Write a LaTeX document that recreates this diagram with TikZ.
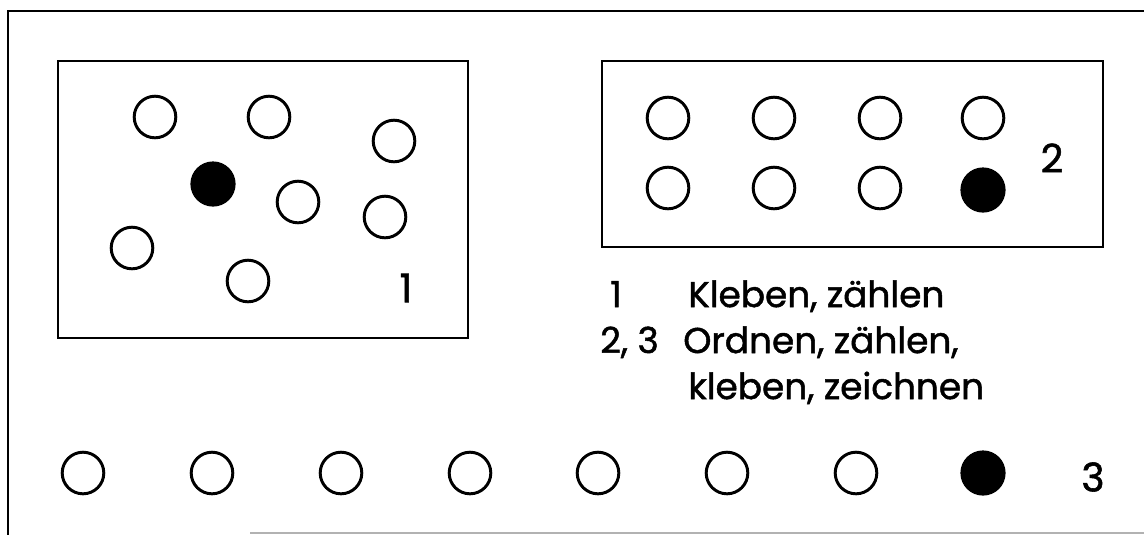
\documentclass[tikz,border=0pt]{standalone}
\usepackage{fontspec}
\setmainfont{Poppins}
\newfontfamily\legfont{Poppins}[FakeBold=1.4]
\begin{document}
\begin{tikzpicture}[x=0.025cm, y=-0.025cm,
    ring/.style={circle, draw, line width=2.1pt, minimum size=1.04cm, inner sep=0pt},
    blob/.style={circle, fill=black, minimum size=1.13cm, inner sep=0pt},
    frame/.style={line width=0.9pt},
    txt/.style={font=\legfont\fontsize{25.5}{30}\selectfont, anchor=base west, inner sep=0pt},
    num/.style={font=\legfont\fontsize{28}{32}\selectfont, inner sep=0pt}]
    \useasboundingbox (0,0) rectangle (1144,535);
    % outer frame
    \draw[frame] (1144,11) -- (8,11) -- (8,535);
    \draw[frame, black!30] (250,533) -- (1144,533);
    % field 1: loose
    \draw[frame] (58,61) rectangle (468,338);
    \node[ring] (a1) at (155,117) {};
    \node[ring] (a2) at (269,117) {};
    \node[ring] (a3) at (394,141) {};
    \node[blob] (a4) at (213,184) {};
    \node[ring] (a5) at (298,202) {};
    \node[ring] (a6) at (385,217) {};
    \node[ring] (a7) at (132,248) {};
    \node[ring] (a8) at (248,281) {};
    \node[num] (n1) at (406,288) {1};
    % field 2: two rows
    \draw[frame] (602,61) rectangle (1103,247);
    \foreach \i/\x in {1/668,2/774,3/880,4/983}
        \node[ring] (b\i) at (\x,118) {};
    \foreach \i/\x in {5/668,6/774,7/880}
        \node[ring] (b\i) at (\x,188) {};
    \node[blob] (b8) at (983,190) {};
    \node[num] (n2) at (1052,158) {2};
    % row 3
    \foreach \i/\x in {1/83,2/212,3/341,4/470,5/598,6/727,7/856}
        \node[ring] (c\i) at (\x,473) {};
    \node[blob] (c8) at (983,473) {};
    \node[num] (n3) at (1093,477) {3};
    % legend
    \node[txt] (k1) at (610,307) {1};
    \node[txt] (t1) at (688,307) {Kleben, zählen};
    \node[txt] (k2) at (600,353) {2, 3};
    \node[txt] (t2) at (683,353) {Ordnen, zählen,};
    \node[txt] (t3) at (688,399) {kleben, zeichnen};
\end{tikzpicture}
\end{document}
